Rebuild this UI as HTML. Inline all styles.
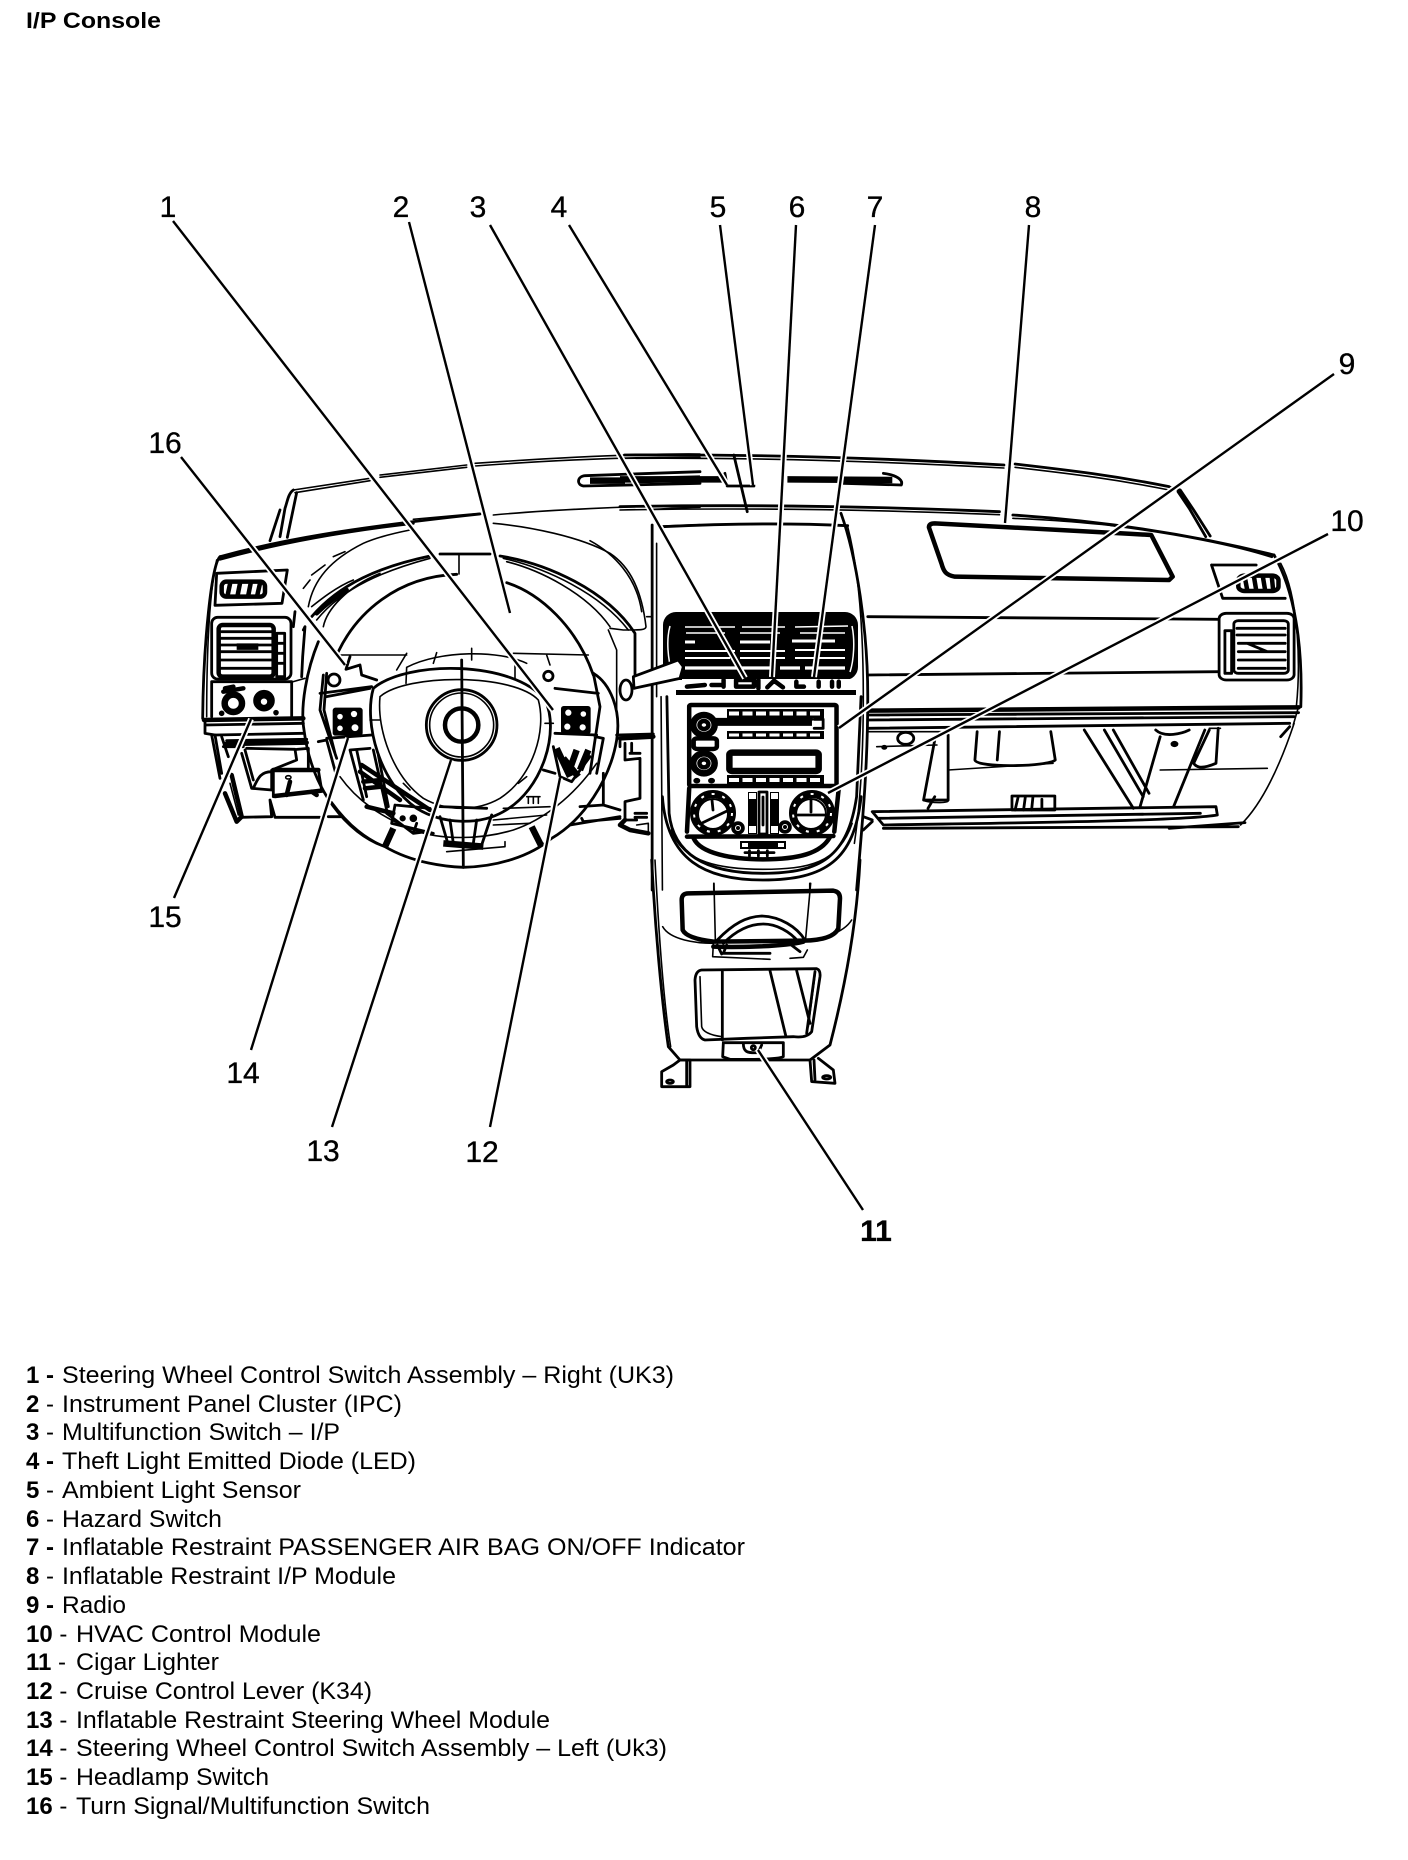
<!DOCTYPE html>
<html><head><meta charset="utf-8"><title>I/P Console</title>
<style>
html,body{margin:0;padding:0;background:#fff;width:1408px;height:1860px;overflow:hidden}
svg{display:block}
text{font-family:"Liberation Sans",sans-serif;fill:#000}
.d *{vector-effect:non-scaling-stroke;fill:none;stroke:#000;stroke-width:1.6;stroke-linecap:round;stroke-linejoin:round}
.d .t{stroke-width:2.8}
.d .h{stroke-width:4.5}
.d .x{stroke-width:6.5;stroke-linecap:butt}
.d .s{stroke-width:1.1}
.d .k{fill:#000}
.d .w{fill:#fff}
.d .f{fill:#000;stroke:none}
.d .wf{fill:#fff;stroke:none}
.d .wl{stroke:#fff;stroke-linecap:butt}
.n{font-size:30px;text-anchor:middle;stroke:#000;stroke-width:.35px}
.e{font-size:24px}
</style></head><body>
<svg width="1408" height="1860" viewBox="0 0 1408 1860" xmlns="http://www.w3.org/2000/svg">
<rect width="1408" height="1860" fill="#fff"/>
<text x="26" y="28" font-size="22" font-weight="bold" textLength="135" lengthAdjust="spacingAndGlyphs">I/P Console</text>

<!-- left half -->
<g class="d" transform="translate(180 430) scale(.33333)">
<path d="M340,180 L570,145 M345,188 L570,152 M600,135 L860,105 M600,142 L860,112 M885,100 C1100,85 1350,70 1560,72 M885,108 C1100,92 1350,80 1560,82"/>
<path class="t" d="M1215,137 L1560,125 M1215,137 C1190,140 1190,165 1210,168 L1560,160"/>
<path class="x" d="M1230,152 L1335,152 M1375,150 L1560,146"/>
<path class="t" d="M340,180 C325,190 322,215 315,235 L300,320 M350,188 L322,322 M300,240 L270,332"/>
<path class="t" d="M120,380 C300,330 500,295 900,252 M120,388 C300,338 500,303 700,280"/>
<path d="M700,268 L900,250 M940,255 C1100,240 1350,228 1560,226 M1420,238 C1480,235 1520,232 1560,232 M1450,288 L1560,284"/>
<path class="t" d="M120,380 C95,400 70,640 68,865"/>
<path d="M110,390 C90,480 80,640 80,860"/>
<path class="t" d="M110,430 L322,420 L306,520 L105,526 Z"/>
<rect class="h" x="125" y="455" width="130" height="45" rx="14"/>
<path class="h" d="M150,462 L143,495 M180,460 L173,495 M212,460 L205,495 M240,460 L232,495"/>
<rect class="t" x="95" y="562" width="238" height="185" rx="18"/>
<rect class="h" x="116" y="585" width="165" height="155" rx="12"/>
<path class="t" d="M125,605 L275,605 M120,625 L275,625 M120,645 L275,645 M120,665 L275,665 M120,690 L275,690 M120,715 L275,715"/>
<path class="x" d="M170,650 L235,650"/>
<rect class="t" x="290" y="610" width="24" height="130"/>
<path class="t" d="M295,640 L310,640 M295,670 L310,670 M295,700 L310,700"/>
<path class="t" d="M95,755 L335,755 L335,860 M95,755 L95,860"/>
<path d="M340,755 L375,745"/>
<circle class="x" cx="160" cy="820" r="26"/>
<path class="h" d="M130,785 L190,775 M135,775 L160,770"/>
<circle class="k" cx="252" cy="812" r="30"/>
<circle class="w" cx="252" cy="815" r="12"/>
<circle class="k" cx="125" cy="850" r="6"/><circle class="k" cx="288" cy="848" r="6"/>
<!-- binnacle & hood -->
<path class="t" d="M395,560 C480,460 600,410 750,378"/>
<path d="M410,570 C490,470 620,420 750,385 M430,590 C440,540 500,470 600,430 M395,530 C420,510 470,470 520,450"/>
<path class="h" d="M410,550 C440,520 470,500 500,480"/>
<path d="M385,530 C400,450 450,390 550,340 C590,322 640,310 690,300 M460,380 L495,365 M395,435 L435,405 M370,475 L390,450"/>
<path class="t" d="M780,372 L930,372"/>
<path d="M837,372 L837,432"/>
<path class="t" d="M960,378 C1100,400 1280,480 1365,610 L1365,750"/>
<path d="M970,385 C1100,415 1260,490 1345,600 M980,395 C1080,420 1220,490 1290,590"/>
<path d="M940,280 C1050,290 1200,320 1290,370 C1350,410 1385,480 1398,590 C1398,600 1385,600 1330,600 L1290,595"/>
<path d="M1230,332 C1300,370 1370,440 1385,545 M1285,600 L1310,660 L1310,850 M1400,560 L1415,560"/>
<path class="t" d="M340,590 L345,545 M370,600 L375,590 L368,680 L365,740"/>
<!-- wheel -->
<path class="t" d="M475,665 C530,550 650,440 830,433 M980,458 C1080,490 1190,590 1240,735"/>
<path class="t" d="M415,635 C380,720 360,830 372,900 C395,1080 500,1210 615,1250 C700,1300 800,1310 850,1312 C950,1310 1050,1280 1115,1225 C1210,1170 1290,1050 1310,930 C1325,840 1290,760 1240,730"/>
<path d="M455,1115 C510,1190 560,1225 615,1250 M480,1040 C530,1110 600,1160 700,1200 C780,1230 900,1230 1000,1200 C1090,1170 1180,1100 1250,1000"/>
<path class="t" d="M580,775 C680,690 1000,690 1095,810 C1140,900 1090,1080 970,1145 C900,1185 790,1185 710,1135 C600,1060 550,880 580,775"/>
<path d="M600,800 C680,730 1000,730 1075,810 C1100,900 1060,1040 960,1105 C890,1145 800,1145 730,1105 C640,1040 590,900 600,800"/>
<path d="M680,712 C780,660 960,660 1040,700 M680,712 L678,760 M1005,700 L1005,745 M570,870 L600,870 M1095,880 L1120,880 M670,1060 L690,1080 M1015,1060 L1040,1040"/>
<circle class="t" cx="845" cy="885" r="106"/>
<circle cx="845" cy="885" r="96"/>
<circle class="h" cx="845" cy="885" r="50"/>
<path class="t" d="M845,690 L850,1312"/>
<path d="M480,675 L680,675 M1000,670 L1225,675 M680,670 L650,720 M770,668 L760,700 M875,655 L875,690 M1100,675 L1110,705"/>
<path class="t" d="M510,680 L498,718 L540,705 L545,735 L590,750"/>
<circle class="t" cx="462" cy="750" r="18"/>
<circle class="t" cx="1105" cy="738" r="14"/>
<path class="t" d="M430,735 L420,840 L470,985 M420,790 L575,770 M440,730 L432,840 L465,970 M440,925 L575,915 M440,800 L570,775 M1125,775 L1255,790 M1125,910 L1250,915 M1240,730 L1260,830 L1230,1030 M1245,920 L1270,925 L1250,1030 M415,935 L440,930 L470,1040"/>
<!-- switches -->
<rect class="f" x="458" y="833" width="90" height="84" rx="8"/>
<circle class="w" style="stroke-width:2.4" cx="480" cy="860" r="12"/><circle class="w" style="stroke-width:2.4" cx="522" cy="852" r="13"/><circle class="w" style="stroke-width:2.4" cx="480" cy="895" r="12"/><circle class="w" style="stroke-width:2.4" cx="525" cy="893" r="14"/>
<rect class="f" x="1143" y="828" width="89" height="84" rx="8"/>
<circle class="w" style="stroke-width:2.4" cx="1165" cy="848" r="13"/><circle class="w" style="stroke-width:2.4" cx="1210" cy="852" r="12"/><circle class="w" style="stroke-width:2.4" cx="1162" cy="890" r="13"/><circle class="w" style="stroke-width:2.4" cx="1208" cy="892" r="13"/>
<!-- lower wheel details -->
<circle class="k" cx="668" cy="1165" r="7"/><circle class="k" cx="700" cy="1165" r="9"/>
<path class="x" d="M640,1195 L615,1250 M1055,1190 L1085,1250 M790,1240 L910,1250"/>
<path class="t" d="M780,1160 L805,1245 L905,1245 L935,1155 M810,1170 L820,1240 M890,1170 L880,1240 M780,1130 L920,1135"/>
<path d="M975,1235 L975,1250 L800,1265 M940,1170 L1100,1155 M940,1185 L1050,1180 M970,1135 L1110,1130 M1040,1100 L1080,1100 M1045,1100 L1045,1120 M1060,1100 L1060,1120 M1075,1100 L1075,1120"/>
<path class="x" d="M1130,955 L1170,1040 M1150,985 L1195,1040 M1190,960 L1165,1030 M1225,960 L1200,1020"/>
<path class="t" d="M1120,950 L1140,1040 L1175,1055 L1230,980 M1090,1020 L1125,1030"/>
<ellipse class="t" cx="1338" cy="780" rx="18" ry="30"/>
</g>

<!-- lower-left under-dash (200,700) -->
<g class="d" transform="translate(200 700) scale(.33333)">
<path class="h" d="M12,60 L310,55 M78,132 L320,128"/>
<path class="t" d="M15,75 L310,70 M80,122 L320,118 M15,60 L15,100 L45,105 L310,100"/>
<path class="t" d="M35,105 L60,235 M45,105 L65,220 M65,110 L85,170 M70,140 L130,140"/>
<path class="h" d="M75,280 L110,365 L125,350 L95,225"/>
<path d="M90,250 L115,345"/>
<path class="t" d="M125,160 L155,265 L215,270 M135,150 L160,240 M140,145 L285,148 L290,180 L215,210 L215,270 M290,148 L325,145 L325,205 M160,265 C175,230 185,215 215,215"/>
<path class="h" d="M220,210 L355,210 M225,288 L365,272"/>
<path class="t" d="M355,210 L365,270 M220,210 L220,290"/>
<ellipse cx="265" cy="232" rx="8" ry="5"/>
<path class="h" d="M270,245 L260,285 M335,275 L350,285"/>
<path class="t" d="M210,300 L225,352 L360,352 M125,352 L215,350 M385,350 L425,350 M210,300 L215,350"/>
<path class="t" d="M450,150 L490,300 M470,150 L500,290 M520,150 L560,330 M535,165 L565,320 M450,150 L510,145"/>
<path class="h" d="M485,195 L690,330 M480,215 L600,300 M490,245 L545,240 M495,265 L545,260 M500,320 L580,340"/>
<path class="t" d="M585,315 L690,325 M585,315 L575,370 L700,400 M560,340 L640,400 M650,370 L640,400 L680,395"/>
</g>

<!-- right of wheel (520,730) -->
<g class="d" transform="translate(520 730) scale(.33333)">
<path class="h" d="M300,25 L400,20"/>
<path class="t" d="M290,15 L400,12 M315,40 L315,90 L360,85 L360,205 L315,215 L315,270 L350,270 M330,70 L360,70 M300,30 L300,50 M335,40 L335,70 M345,250 L380,250 M345,262 L380,262"/>
<path class="t" d="M250,130 L250,225 L300,240 M180,230 L250,225 M150,285 L300,260 M185,265 L190,275 L300,265"/>
<path class="h" d="M300,285 L330,300 L385,310 M300,285 L315,270"/>
<path d="M385,310 L385,280 M350,285 L385,280"/>
</g>

<!-- center vent -->
<g class="d">
<rect class="f" x="663" y="612" width="195" height="68" rx="13"/>
<path class="wl" style="stroke-width:1.5" d="M685,627 L735,627 M742,627 L785,627 M795,627 L848,626 M686,633 L725,633 M740,633 L780,633 M800,633 L845,633"/>
<path class="wl" style="stroke-width:3" d="M685,642 L695,642 M740,642 L770,642 M792,641 L835,641"/>
<path class="wl" style="stroke-width:2" d="M685,651 L735,651 M740,651 L785,651 M795,650 L845,650 M685,658 L730,658 M740,658 L785,658 M795,658 L845,658"/>
<path class="wl" style="stroke-width:3.2" d="M685,668 L770,668 M780,668 L800,668 M805,668 L845,668"/>
<path class="wl" style="stroke-width:1.5" d="M670,626 C666,640 668,660 672,672 M852,626 C855,640 854,660 850,672"/>
<rect class="wf" x="682" y="679" width="168" height="11"/>
<rect class="f" x="676" y="690" width="180" height="5"/>
</g>

<!-- right half -->
<g class="d" transform="translate(620 430) scale(.44643 .33333)">
<path class="t" d="M10,75 C300,72 600,85 860,105 M885,102 C1000,120 1100,135 1230,170"/>
<path d="M10,85 C300,82 600,95 860,114 M885,112 C1000,130 1100,145 1230,180"/>
<path class="t" d="M1232,172 L1255,180 L1285,240 L1322,318 M1250,185 L1275,235 L1312,320"/>
<path class="t" d="M0,230 C200,225 500,225 850,245 M880,255 C1100,275 1300,320 1465,375 M1100,285 C1250,310 1380,345 1460,380"/>
<path d="M0,240 C200,235 500,235 850,254 M880,265 C1000,272 1050,280 1130,290"/>
<path class="t" d="M590,130 C620,135 635,150 630,165 L500,160"/>
<path class="x" d="M0,148 L230,148 M375,148 L610,150"/>
<path class="t" d="M235,130 L240,168 L300,168 L298,130 M255,75 L285,245"/>
<!-- airbag door -->
<path class="h" d="M705,280 C800,285 1000,300 1190,315 L1238,440 L1230,450 L750,440 C730,435 725,425 720,400 L692,292 Q692,280 705,280 Z"/>
<!-- right outer -->
<path class="t" d="M1465,375 C1510,480 1530,640 1525,830"/>
<path d="M1480,400 C1520,500 1525,700 1515,830"/>
<path class="t" d="M1325,405 L1425,405 M1325,405 L1350,505 L1490,505"/>
<rect class="h" x="1385" y="437" width="90" height="46" rx="14"/>
<path class="h" d="M1400,445 L1405,480 M1420,440 L1425,480 M1440,440 L1445,480 M1460,440 L1463,480"/>
<path class="t" d="M555,560 L1340,568 M555,735 L1340,725"/>
<rect class="t" x="1342" y="550" width="168" height="200" rx="16"/>
<rect class="t" x="1375" y="572" width="122" height="158" rx="10"/>
<path class="t" d="M1382,595 L1490,595 M1382,615 L1490,615 M1385,640 L1490,640 M1385,665 L1490,665 M1385,690 L1490,690 M1385,715 L1490,715 M1405,640 L1450,665"/>
<rect class="t" x="1355" y="602" width="15" height="128"/>
<!-- band -->
<path class="h" d="M555,842 L1520,832"/>
<path class="t" d="M555,855 L1520,848 M555,870 L1510,860 M555,895 L1500,880"/>
<path d="M1520,830 L1508,885 M1510,880 C1480,1000 1440,1120 1390,1185"/>
<path class="t" d="M1480,920 L1500,890"/>
<!-- glove lower -->
<path class="t" d="M800,905 L795,990 C800,1015 960,1010 975,990 L965,905 M850,905 L845,990 M735,915 L735,1110 L680,1110 L705,930 M690,1135 L705,1100"/>
<path d="M735,1020 L970,1000 M735,1110 C740,1120 700,1120 680,1112 M575,950 L710,945 M555,905 L720,905"/>
<ellipse class="t" cx="640" cy="925" rx="18" ry="18"/>
<circle class="k" cx="592" cy="952" r="5"/>
<path class="t" d="M1040,900 L1150,1135 M1085,900 L1172,1100 M1105,900 L1185,1090 M1210,920 L1165,1130 M1310,900 L1240,1130 M1340,895 L1335,1000 C1300,1020 1290,1010 1285,1000 L1320,900"/>
<path d="M1210,1020 L1450,1015 M1320,895 L1345,895"/>
<circle class="k" cx="1242" cy="942" r="7"/>
<path class="t" d="M1200,900 C1220,925 1260,910 1275,900"/>
<rect class="t" x="878" y="1098" width="96" height="42"/>
<path class="t" d="M892,1100 L885,1140 M908,1100 L904,1140 M925,1100 L922,1140 M945,1108 L945,1135"/>
<path class="t" d="M565,1145 L1335,1130 L1338,1155 C1250,1175 800,1180 590,1185 Z M580,1165 L1300,1150"/>
<path class="t" d="M590,1195 L1385,1190 M1230,1195 L1400,1178 M545,1160 L565,1170 M545,1200 L565,1175"/>
<!-- center stack -->
<path class="t" d="M72,285 L72,1380"/><path d="M82,340 L82,800 M92,800 L95,1380"/>
<path class="t" d="M95,290 C250,280 400,280 510,287"/>
<path class="t" d="M495,250 C530,380 555,600 555,800 C555,1000 545,1150 530,1380"/>
<path d="M510,290 C535,420 545,600 545,800 C545,1000 535,1150 525,1240"/>
<!-- switch row symbols -->
<path class="h" d="M150,770 L190,765 M205,765 L225,765 M232,750 L232,770 M260,750 L300,750 L300,770 L260,770 Z M310,750 L310,775 M345,752 L330,772 M345,752 L365,772 M395,755 L395,770 L412,770 M445,755 L445,770 M475,755 L475,770 M490,755 L490,770"/>
<!-- radio -->
<rect class="h" x="155" y="825" width="330" height="243" rx="4"/>
<path class="x" d="M215,878 L430,878"/>
<path class="t" d="M435,868 L455,868 L455,895 L435,895 M215,868 L430,868"/>
<ellipse class="x" cx="188" cy="885" rx="24" ry="30"/>
<ellipse class="h" cx="188" cy="885" rx="10" ry="12"/>
<rect class="h" x="165" y="925" width="52" height="32" rx="8"/>
<ellipse class="x" cx="188" cy="1000" rx="24" ry="30"/>
<ellipse class="h" cx="188" cy="1000" rx="10" ry="12"/>
<rect class="x" x="245" y="968" width="200" height="55" rx="6"/>
<circle class="k" cx="172" cy="1052" r="6"/><circle class="k" cx="205" cy="1052" r="6"/>
<!-- hvac outline -->
<path class="h" d="M155,1075 L150,1205 M490,1075 L480,1205 M150,1220 L478,1218"/>
<path class="h" d="M165,1225 C180,1270 250,1288 320,1288 C400,1288 450,1270 470,1222"/>
<path class="t" d="M280,1268 L345,1268 M290,1262 L290,1278 M310,1262 L310,1278 M330,1262 L330,1278"/>
<path class="t" d="M105,800 L110,1150 C120,1280 200,1330 320,1330 C450,1330 510,1280 530,1100 L540,800"/>
<path class="t" d="M95,1100 C105,1290 190,1350 320,1350 C460,1350 525,1290 540,1100"/>
<path d="M115,1200 C140,1300 230,1318 320,1318 C420,1318 490,1300 520,1180 M210,1360 L210,1380 M425,1360 L425,1380"/>
</g>

<!-- radio buttons, hvac (page coordinates) -->
<g class="d">
<rect class="f" x="727" y="709" width="97" height="9"/>
<rect class="f" x="727" y="731" width="97" height="8"/>
<rect class="f" x="727" y="775" width="97" height="10"/>
<path class="wl" style="stroke-width:4;stroke-dasharray:10 3.5" d="M729,713.5 L822,713.5"/>
<path class="wl" style="stroke-width:3;stroke-dasharray:10 3.5" d="M729,735 L822,735"/>
<path class="wl" style="stroke-width:4;stroke-dasharray:10 3.5" d="M729,780 L822,780"/>
<circle cx="713" cy="813" r="19" style="stroke-width:8"/>
<circle class="wl" cx="713" cy="813" r="19" style="stroke-width:2;stroke-dasharray:3 8"/>
<circle class="w" cx="713" cy="814" r="15" style="stroke-width:2"/>
<path class="t" d="M700,824 L727,811 M712,800 L713,810"/>
<circle cx="812" cy="813" r="19" style="stroke-width:8"/>
<circle class="wl" cx="812" cy="813" r="19" style="stroke-width:2;stroke-dasharray:3 8"/>
<circle class="w" cx="811" cy="814" r="15" style="stroke-width:2"/>
<path class="t" d="M796,815 L826,815 M811,800 L811,812"/>
<rect class="f" x="748" y="792" width="9" height="42"/><rect class="f" x="770" y="792" width="9" height="42"/>
<path class="wl" style="stroke-width:7" d="M752.500,793 L752.500,799 M752.500,826 L752.500,833 M774.500,793 L774.500,799 M774.500,826 L774.500,833"/>
<path class="t" d="M763,797 L763,825 M759,792 L767,792 L767,834 L759,834 Z"/>
<circle class="k" cx="738" cy="828" r="6"/><circle class="k" cx="785" cy="827" r="6"/>
<circle class="wl" cx="738" cy="828" r="2.500" style="stroke-width:1"/><circle class="wl" cx="785" cy="827" r="2.500" style="stroke-width:1"/>
<rect class="f" x="740" y="841" width="46" height="8"/>
<rect class="wf" x="742" y="843" width="6" height="4"/><rect class="wf" x="778" y="843" width="6" height="4"/>
</g>

<!-- console bottom -->
<g class="d" transform="translate(630 860) scale(.33333)">
<path class="t" d="M65,0 C75,200 95,420 115,560 L150,600 L540,600 L600,555 C640,400 680,200 690,0"/>
<path d="M75,0 C85,200 100,420 122,560 M98,200 C120,240 200,250 250,250 M520,240 C570,240 640,220 665,180"/>
<path class="h" d="M175,100 L610,92 Q630,95 630,115 L625,205 Q610,240 520,242 L250,245 Q170,235 158,210 L155,120 Q155,100 175,100 Z"/>
<path d="M252,70 L256,240 M542,70 L527,235 M250,250 L248,290 L420,298 M480,295 L520,292 L532,270"/>
<path class="t" d="M262,240 C310,190 350,170 395,168 C450,170 500,200 525,240 M280,250 C320,210 360,192 400,192 C440,192 480,215 505,245"/>
<path class="h" d="M250,260 C300,262 450,262 520,245"/>
<path class="t" d="M262,255 L275,282 M290,255 L280,280 L420,280 M480,252 L510,275"/>
<path class="t" d="M215,330 L560,326 Q572,330 570,350 L545,515 Q530,535 490,530 L350,535 L225,540 Q205,535 200,500 L195,360 Q197,332 215,330 Z"/>
<path d="M210,350 L215,500 Q220,522 275,530 M555,345 L535,500"/>
<path class="t" d="M277,335 L277,540 M420,332 L468,530 M500,332 L540,490 M555,335 L530,520"/>
<path class="t" d="M280,548 L460,548 L460,590 Q440,600 300,598 L278,590 Z"/>
<path class="t" d="M340,550 C340,575 350,580 385,578 L395,555"/>
<circle class="t" cx="370" cy="563" r="6"/>
<path class="t" d="M150,600 L130,615 L95,635 L95,680 L180,680 L180,600 L150,600 M170,600 L170,680"/>
<ellipse class="t" cx="120" cy="665" rx="10" ry="5"/>
<path class="t" d="M540,600 L545,665 L615,670 L610,630 L565,595 M552,600 L555,660"/>
<ellipse class="t" cx="590" cy="652" rx="12" ry="5"/>
</g>

<!-- stalk on top of vent -->
<g class="d" transform="translate(180 430) scale(.33333)">
<path class="t w" d="M1360,740 L1495,690 L1510,710 L1500,745 L1362,775 Z"/>
</g>

<!-- leaders -->
<defs><g id="L">
<line x1="173" y1="221" x2="553" y2="710"/>
<line x1="409" y1="222" x2="510" y2="613"/>
<line x1="490" y1="225" x2="745" y2="678"/>
<line x1="569" y1="225" x2="727" y2="485"/>
<line x1="720" y1="225" x2="753" y2="485"/>
<line x1="796" y1="225" x2="772" y2="677"/>
<line x1="875" y1="225" x2="814" y2="677"/>
<line x1="1029" y1="225" x2="1005" y2="523"/>
<line x1="1334" y1="374" x2="839" y2="728"/>
<line x1="1328" y1="534" x2="828" y2="793"/>
<line x1="863" y1="1210" x2="758" y2="1050"/>
<line x1="490" y1="1127" x2="560" y2="778"/>
<line x1="332" y1="1127" x2="451" y2="760"/>
<line x1="251" y1="1050" x2="348" y2="738"/>
<line x1="174" y1="898" x2="251" y2="719"/>
<line x1="181" y1="457" x2="345" y2="665"/>
</g></defs>
<use href="#L" stroke="#fff" stroke-width="6"/>
<use href="#L" stroke="#000" stroke-width="2.4"/>

<!-- callout numbers -->
<text class="n" x="168" y="217">1</text>
<text class="n" x="401" y="217">2</text>
<text class="n" x="478" y="217">3</text>
<text class="n" x="559" y="217">4</text>
<text class="n" x="718" y="217">5</text>
<text class="n" x="797" y="217">6</text>
<text class="n" x="875" y="217">7</text>
<text class="n" x="1033" y="217">8</text>
<text class="n" x="1347" y="374">9</text>
<text class="n" x="1347" y="531">10</text>
<text class="n" x="876" y="1241" font-weight="bold">11</text>
<text class="n" x="482" y="1162">12</text>
<text class="n" x="323" y="1161">13</text>
<text class="n" x="243" y="1083">14</text>
<text class="n" x="165" y="927">15</text>
<text class="n" x="165" y="453">16</text>

<!-- legend -->
<g class="e">
<text x="26" y="1383"><tspan font-weight="bold">1 -</tspan></text><text x="62" y="1383" textLength="612" lengthAdjust="spacingAndGlyphs">Steering Wheel Control Switch Assembly – Right (UK3)</text>
<text x="26" y="1412"><tspan font-weight="bold">2</tspan> -</text><text x="62" y="1412" textLength="340" lengthAdjust="spacingAndGlyphs">Instrument Panel Cluster (IPC)</text>
<text x="26" y="1440"><tspan font-weight="bold">3</tspan> -</text><text x="62" y="1440" textLength="278" lengthAdjust="spacingAndGlyphs">Multifunction Switch – I/P</text>
<text x="26" y="1469"><tspan font-weight="bold">4 -</tspan></text><text x="62" y="1469" textLength="354" lengthAdjust="spacingAndGlyphs">Theft Light Emitted Diode (LED)</text>
<text x="26" y="1498"><tspan font-weight="bold">5</tspan> -</text><text x="62" y="1498" textLength="239" lengthAdjust="spacingAndGlyphs">Ambient Light Sensor</text>
<text x="26" y="1527"><tspan font-weight="bold">6</tspan> -</text><text x="62" y="1527" textLength="160" lengthAdjust="spacingAndGlyphs">Hazard Switch</text>
<text x="26" y="1555"><tspan font-weight="bold">7 -</tspan></text><text x="62" y="1555" textLength="683" lengthAdjust="spacingAndGlyphs">Inflatable Restraint PASSENGER AIR BAG ON/OFF Indicator</text>
<text x="26" y="1584"><tspan font-weight="bold">8</tspan> -</text><text x="62" y="1584" textLength="334" lengthAdjust="spacingAndGlyphs">Inflatable Restraint I/P Module</text>
<text x="26" y="1613"><tspan font-weight="bold">9 -</tspan></text><text x="62" y="1613" textLength="64" lengthAdjust="spacingAndGlyphs">Radio</text>
<text x="26" y="1642"><tspan font-weight="bold">10</tspan> -</text><text x="76" y="1642" textLength="245" lengthAdjust="spacingAndGlyphs">HVAC Control Module</text>
<text x="26" y="1670"><tspan font-weight="bold">11</tspan> -</text><text x="76" y="1670" textLength="143" lengthAdjust="spacingAndGlyphs">Cigar Lighter</text>
<text x="26" y="1699"><tspan font-weight="bold">12</tspan> -</text><text x="76" y="1699" textLength="296" lengthAdjust="spacingAndGlyphs">Cruise Control Lever (K34)</text>
<text x="26" y="1728"><tspan font-weight="bold">13</tspan> -</text><text x="76" y="1728" textLength="474" lengthAdjust="spacingAndGlyphs">Inflatable Restraint Steering Wheel Module</text>
<text x="26" y="1756"><tspan font-weight="bold">14</tspan> -</text><text x="76" y="1756" textLength="591" lengthAdjust="spacingAndGlyphs">Steering Wheel Control Switch Assembly – Left (Uk3)</text>
<text x="26" y="1785"><tspan font-weight="bold">15</tspan> -</text><text x="76" y="1785" textLength="193" lengthAdjust="spacingAndGlyphs">Headlamp Switch</text>
<text x="26" y="1814"><tspan font-weight="bold">16</tspan> -</text><text x="76" y="1814" textLength="354" lengthAdjust="spacingAndGlyphs">Turn Signal/Multifunction Switch</text>
</g>
</svg>
</body></html>
